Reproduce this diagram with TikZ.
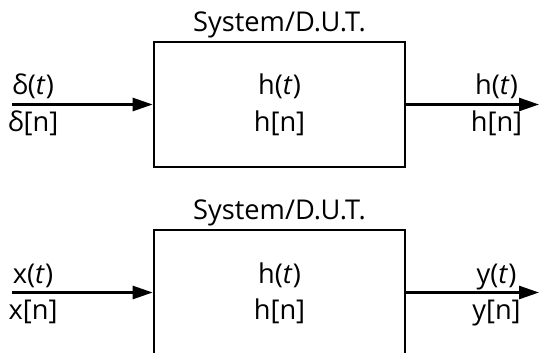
\documentclass[tikz,border=0pt]{standalone}
\usepackage{fontspec}
\setmainfont{Open Sans}
\usetikzlibrary{arrows.meta}

\begin{document}
\begin{tikzpicture}[
  line width=1.5pt,
  font=\fontsize{15.5}{18}\selectfont,
  sysbox/.style={draw, minimum width=5.02cm, minimum height=2.5cm, inner sep=0pt},
  sig/.style={-{Triangle[length=0.4cm,width=0.26cm]}},
  lbl/.style={inner sep=0pt, anchor=base}
]
\useasboundingbox (0,0) rectangle (10.78,7.04);

%upper system, impulse in, impulse response out
\node[sysbox] (sys1) at (5.59,4.95) {};
\node[lbl] (title1) at ([yshift=0.18cm]sys1.north) {System/D.U.T.};
\node[lbl] (ht1) at ([yshift=0.19cm]sys1.center) {h(\textit{t})};
\node[lbl] (hn1) at ([yshift=-0.54cm]sys1.center) {h[n]};
\coordinate (in1) at (0.24,4.95);
\coordinate (out1) at (10.78,4.95);
\draw[sig] (in1) -- (sys1.west);
\draw[sig] (sys1.east) -- (out1);
\node[lbl] (xt1) at (0.66,5.14) {δ(\textit{t})};
\node[lbl] (xn1) at (0.66,4.41) {δ[n]};
\node[lbl] (yt1) at (9.93,5.14) {h(\textit{t})};
\node[lbl] (yn1) at (9.93,4.41) {h[n]};

%lower system, any input x, output y
\node[sysbox] (sys2) at (5.59,1.19) {};
\node[lbl] (title2) at ([yshift=0.18cm]sys2.north) {System/D.U.T.};
\node[lbl] (ht2) at ([yshift=0.19cm]sys2.center) {h(\textit{t})};
\node[lbl] (hn2) at ([yshift=-0.54cm]sys2.center) {h[n]};
\coordinate (in2) at (0.24,1.19);
\coordinate (out2) at (10.78,1.19);
\draw[sig] (in2) -- (sys2.west);
\draw[sig] (sys2.east) -- (out2);
\node[lbl] (xt2) at (0.66,1.38) {x(\textit{t})};
\node[lbl] (xn2) at (0.66,0.65) {x[n]};
\node[lbl] (yt2) at (9.93,1.38) {y(\textit{t})};
\node[lbl] (yn2) at (9.93,0.65) {y[n]};

\end{tikzpicture}
\end{document}
